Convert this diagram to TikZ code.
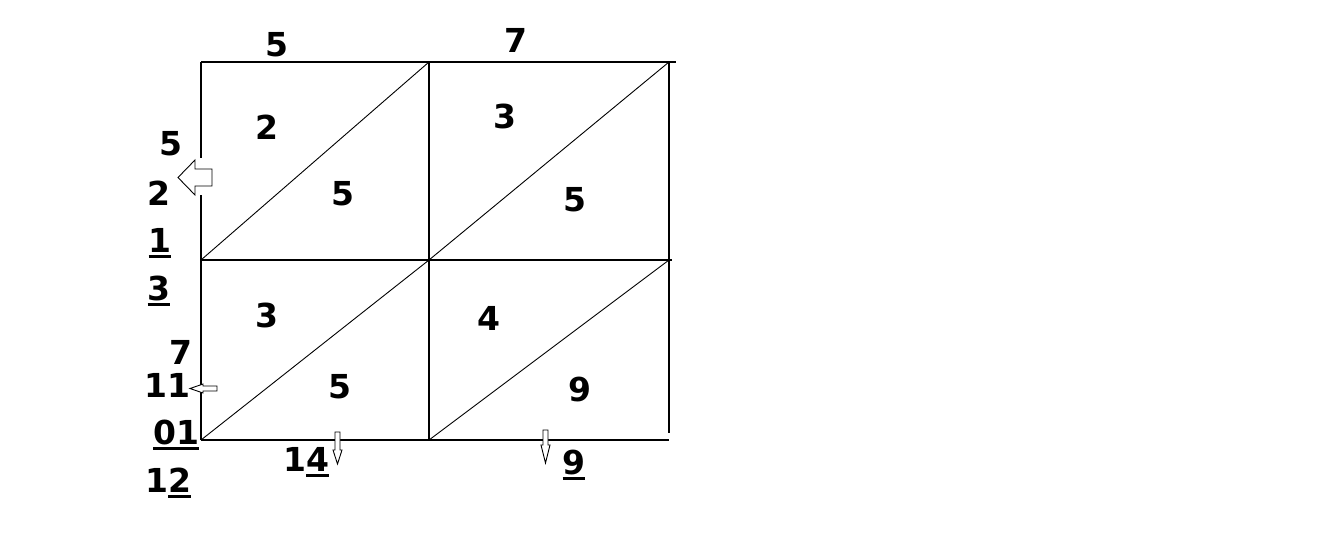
\documentclass[tikz,border=0pt]{standalone}
\usepackage{fontspec}
\setmainfont{DejaVu Sans}
\newsavebox\ulbox
\newcommand\ulx[1]{\sbox\ulbox{#1}\rlap{\smash{\rule[-6pt]{\wd\ulbox}{3pt}}}\usebox\ulbox}
\begin{document}
\begin{tikzpicture}[x=1pt,y=-1pt,
  gridline/.style={line width=1.8pt},
  diag/.style={line width=0.9pt},
  num/.style={font=\fontsize{33}{40}\selectfont\bfseries, inner sep=0pt},
  blockarrow/.style={draw, fill=white, line width=0.9pt, line join=miter}]
\useasboundingbox[fill=white] (0,0) rectangle (1328,547);
% grid corners
\coordinate (TL) at (201,62);
\coordinate (TM) at (429,62);
\coordinate (TR) at (669,62);
\coordinate (TRx) at (676,62);
\coordinate (ML) at (201,260);
\coordinate (MM) at (429,260);
\coordinate (MR) at (669,260);
\coordinate (MRx) at (672,260);
\coordinate (BL) at (201,440);
\coordinate (BM) at (429,440);
\coordinate (BR) at (669,440);
\coordinate (BRs) at (669,433);
\coordinate (Lg1) at (201,158);
\coordinate (Lg2) at (201,195);
% grid lines
\draw[gridline] (TL) -- (TRx);
\draw[gridline] (ML) -- (MRx);
\draw[gridline] (BL) -- (BR);
\draw[gridline] (TL) -- (Lg1);
\draw[gridline] (Lg2) -- (BL);
\draw[gridline] (TM) -- (BM);
\draw[gridline] (TR) -- (BRs);
% diagonals
\draw[diag] (ML) -- (TM);
\draw[diag] (MM) -- (TR);
\draw[diag] (BL) -- (MM);
\draw[diag] (BM) -- (MR);
% block arrows
\draw[blockarrow] (212,169) -- (195,169) -- (195,160) -- (178,177.5) -- (195,195) -- (195,186) -- (212,186) -- cycle;
\draw[blockarrow] (217,386) -- (203,386) -- (203,384) -- (190,388.5) -- (203,393) -- (203,391) -- (217,391) -- cycle;
\draw[blockarrow] (335,432) -- (340,432) -- (340,450) -- (342,450) -- (337.5,464) -- (333,450) -- (335,450) -- cycle;
\draw[blockarrow] (543,430) -- (548,430) -- (548,445) -- (550,445) -- (545.5,463) -- (541,445) -- (543,445) -- cycle;
% cell digits
\node[num] (c1) at (267,127) {2};
\node[num] (c2) at (343,194) {5};
\node[num] (c3) at (505,116) {3};
\node[num] (c4) at (575,200) {5};
\node[num] (c5) at (267,315) {3};
\node[num] (c6) at (340,387) {5};
\node[num] (c7) at (489,318) {4};
\node[num] (c8) at (580,389) {9};
% top factors
\node[num] (t1) at (277,45) {5};
\node[num] (t2) at (516,40) {7};
% left column
\node[num] (l1) at (171,144) {5};
\node[num] (l2) at (159,193) {2};
\node[num] (l3) at (160,240) {\ulx{1}};
\node[num] (l4) at (159,288) {\ulx{3}};
\node[num] (l5) at (181,352) {7};
\node[num] (l6) at (167,385) {11};
\node[num] (l7) at (176,432) {\ulx{01}};
\node[num] (l8) at (168,480) {1\ulx{2}};
% bottom
\node[num] (b1) at (306,459) {1\ulx{4}};
\node[num] (b2) at (574,462) {\ulx{9}};
\end{tikzpicture}
\end{document}
